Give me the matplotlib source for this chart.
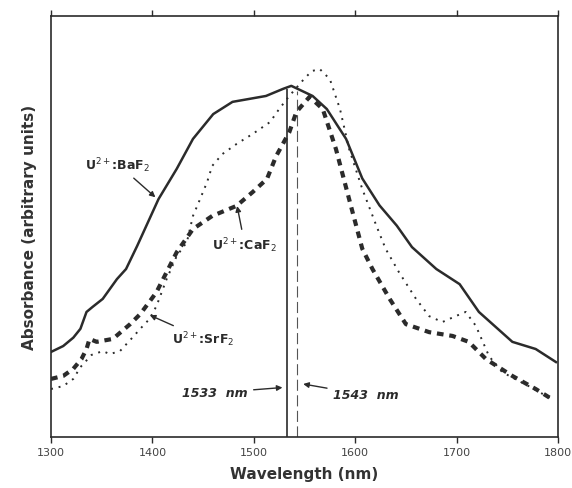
import matplotlib
matplotlib.use("Agg")
import matplotlib.pyplot as plt

baf2_wl = [1300, 1312, 1322, 1329, 1335, 1341, 1351, 1365, 1374, 1385, 1406, 1424, 1440,
           1460, 1479, 1512, 1529, 1537, 1558, 1572, 1591, 1607, 1624, 1641, 1656, 1680,
           1703, 1722, 1755, 1778, 1798]
baf2_abs = [0.202, 0.216, 0.236, 0.257, 0.297, 0.309, 0.328, 0.375, 0.399, 0.454, 0.565,
            0.637, 0.708, 0.767, 0.796, 0.810, 0.827, 0.834, 0.810, 0.779, 0.708, 0.614,
            0.550, 0.502, 0.451, 0.399, 0.363, 0.297, 0.226, 0.209, 0.178]

caf2_wl = [1300, 1312, 1322, 1330, 1335, 1338, 1345, 1361, 1378, 1388, 1397, 1404, 1424,
           1440, 1459, 1483, 1499, 1513, 1522, 1535, 1542, 1555, 1568, 1581, 1594, 1607,
           1617, 1634, 1650, 1673, 1696, 1712, 1729, 1755, 1778, 1794]
caf2_abs = [0.138, 0.145, 0.162, 0.185, 0.209, 0.233, 0.226, 0.233, 0.268, 0.292, 0.321,
            0.344, 0.439, 0.494, 0.525, 0.549, 0.582, 0.613, 0.667, 0.724, 0.772, 0.808,
            0.779, 0.684, 0.565, 0.447, 0.399, 0.328, 0.268, 0.249, 0.240, 0.226, 0.185,
            0.145, 0.114, 0.090]

srf2_wl = [1300, 1312, 1322, 1329, 1340, 1351, 1358, 1368, 1381, 1388, 1397, 1404, 1414,
           1424, 1434, 1440, 1447, 1454, 1459, 1469, 1483, 1499, 1516, 1525, 1535, 1548,
           1557, 1565, 1575, 1585, 1594, 1607, 1621, 1630, 1643, 1660, 1673, 1686, 1699,
           1709, 1719, 1732, 1745, 1771, 1794]
srf2_abs = [0.114, 0.121, 0.138, 0.166, 0.195, 0.204, 0.197, 0.204, 0.238, 0.257, 0.280,
            0.311, 0.375, 0.430, 0.463, 0.525, 0.565, 0.606, 0.644, 0.672, 0.696, 0.720,
            0.748, 0.779, 0.810, 0.846, 0.869, 0.874, 0.850, 0.779, 0.684, 0.589, 0.501,
            0.447, 0.392, 0.328, 0.287, 0.273, 0.287, 0.297, 0.264, 0.192, 0.154, 0.121,
            0.090]

marker_wl = [1533, 1543]
marker_top = [0.827, 0.822]
xticks = [1300, 1400, 1500, 1600, 1700, 1800]

ink = "#2b2b2b"

fig = plt.figure(figsize=(5.72, 4.89), dpi=100)
ax = fig.add_axes([0.0892, 0.1043, 0.8863, 0.861])

ax.plot(baf2_wl, baf2_abs, color=ink, lw=1.8, ls="-")
ax.plot(caf2_wl, caf2_abs, color=ink, lw=3.0, ls=(0, (1.6, 1.4)))
ax.plot(srf2_wl, srf2_abs, color=ink, lw=1.4, ls=(0, (1, 3)))

# laser wavelength markers
ax.vlines(marker_wl[0], 0, marker_top[0], color=ink, lw=1.2)
ax.vlines(marker_wl[1], 0, marker_top[1], color="#555555", lw=0.8, ls=(0, (10, 4)))

lab = dict(fontsize=9, fontweight="bold", color=ink)
arr = dict(arrowstyle="-|>", color=ink, lw=1.0, mutation_scale=8)

ax.annotate(r"U$^{2+}$:BaF$_2$", xy=(1405, 0.565), xytext=(1366, 0.648),
            ha="center", va="center", arrowprops=arr, **lab)
ax.annotate(r"U$^{2+}$:CaF$_2$", xy=(1483, 0.555), xytext=(1491, 0.458),
            ha="center", va="center", arrowprops=arr, **lab)
ax.annotate(r"U$^{2+}$:SrF$_2$", xy=(1395, 0.292), xytext=(1450, 0.233),
            ha="center", va="center", arrowprops=arr, **lab)
ax.annotate("1533  nm", xy=(1531, 0.118), xytext=(1462, 0.105),
            ha="center", va="center", style="italic", arrowprops=arr, **lab)
ax.annotate("1543  nm", xy=(1546, 0.127), xytext=(1610, 0.100),
            ha="center", va="center", style="italic", arrowprops=arr, **lab)

ax.set_xlim(1300, 1800)
ax.set_ylim(0, 1)
ax.set_xticks(xticks)
ax.set_yticks([])
ax.tick_params(axis="x", direction="out", length=4, width=1, top=True,
               labelsize=8, labelcolor="#444444", color=ink)
for s in ax.spines.values():
    s.set_color(ink)
    s.set_linewidth(1.2)

ax.set_xlabel("Wavelength (nm)", fontsize=11, fontweight="bold", color="#333333", labelpad=6)
ax.set_ylabel("Absorbance (arbitrary units)", fontsize=11, fontweight="bold", color="#333333", labelpad=10)

fig.savefig("out.png", dpi=100)
